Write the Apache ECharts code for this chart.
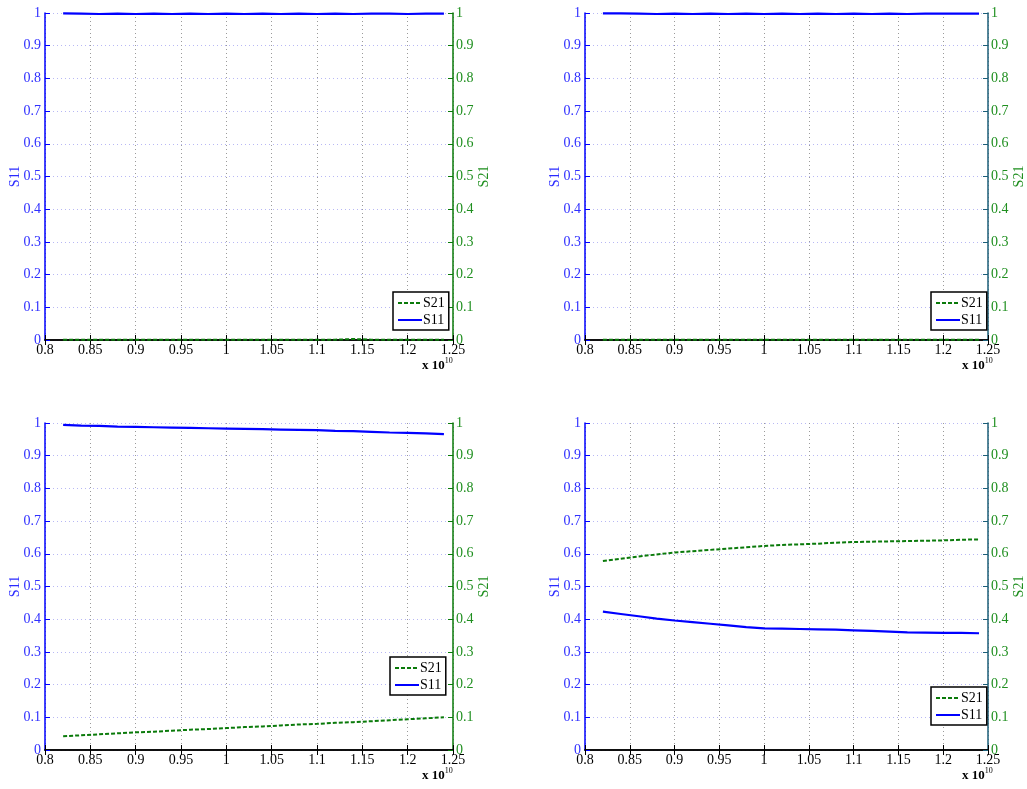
<!DOCTYPE html>
<html><head><meta charset="utf-8">
<script src="https://cdn.jsdelivr.net/npm/echarts@6/dist/echarts.min.js"></script>
<style>html,body{margin:0;padding:0;background:#fff}#c{width:1027px;height:789px}</style>
</head><body><div id="c"></div>
<script>
const freq = [0.82,0.84,0.86,0.88,0.90,0.92,0.94,0.96,0.98,1.00,1.02,1.04,1.06,1.08,1.10,1.12,1.14,1.16,1.18,1.20,1.22,1.24];
const s11_a = [0.999,0.998,0.997,0.998,0.997,0.998,0.997,0.998,0.997,0.998,0.997,0.998,0.997,0.998,0.997,0.998,0.997,0.998,0.998,0.997,0.998,0.998];
const s21_a = [0.001,0.001,0.001,0.001,0.001,0.001,0.001,0.001,0.001,0.001,0.001,0.001,0.001,0.001,0.001,0.001,0.003,0.001,0.001,0.001,0.001,0.001];
const s11_b = [0.999,0.999,0.998,0.997,0.998,0.997,0.998,0.997,0.998,0.997,0.998,0.997,0.998,0.997,0.998,0.997,0.998,0.997,0.998,0.998,0.998,0.998];
const s21_b = [0.001,0.001,0.001,0.001,0.001,0.001,0.001,0.001,0.001,0.001,0.001,0.001,0.001,0.001,0.001,0.001,0.001,0.001,0.001,0.001,0.001,0.001];
const s11_c = [0.994,0.992,0.991,0.989,0.988,0.987,0.986,0.985,0.984,0.983,0.982,0.981,0.980,0.979,0.978,0.976,0.975,0.973,0.971,0.970,0.968,0.966];
const s21_c = [0.042,0.045,0.048,0.051,0.054,0.056,0.059,0.062,0.064,0.067,0.070,0.072,0.075,0.078,0.080,0.083,0.085,0.088,0.091,0.094,0.097,0.100];
const s11_d = [0.423,0.416,0.409,0.402,0.396,0.391,0.386,0.381,0.376,0.372,0.371,0.370,0.369,0.368,0.366,0.364,0.362,0.360,0.359,0.358,0.358,0.357];
const s21_d = [0.578,0.585,0.592,0.598,0.604,0.608,0.612,0.616,0.620,0.624,0.627,0.629,0.631,0.634,0.636,0.637,0.638,0.639,0.640,0.641,0.643,0.644];
const xTicks = [0.8,0.85,0.9,0.95,1,1.05,1.1,1.15,1.2,1.25];
const yTicks = [0,0.1,0.2,0.3,0.4,0.5,0.6,0.7,0.8,0.9,1];

const FONT = '"Liberation Serif", "DejaVu Serif", serif';
const panels = [
  {s11:s11_a, s21:s21_a, left:45, top:13, rightColor:'#0a7a0a', legend:{left:393, top:292}},
  {s11:s11_b, s21:s21_b, left:585, top:13, rightColor:'#1b5e78', legend:{left:931, top:292}},
  {s11:s11_c, s21:s21_c, left:45, top:423, rightColor:'#0a7a0a', legend:{left:390, top:657}},
  {s11:s11_d, s21:s21_d, left:585, top:423, rightColor:'#1b5e78', legend:{left:931, top:687}}
];
const W = 408, H = 327;
const grid=[], xAxis=[], yAxis=[], series=[], legend=[], graphic=[];
panels.forEach((p,i)=>{
  grid.push({left:p.left, top:p.top, width:W, height:H});
  xAxis.push({type:'value', gridIndex:i, min:0.8, max:1.25, interval:0.05, position:'bottom',
    axisLine:{lineStyle:{color:'#000', width:1.5}},
    axisTick:{inside:true, length:5, lineStyle:{color:'#000'}},
    axisLabel:{color:'#000', fontFamily:FONT, fontSize:14, margin:3, formatter:v=>String(+v.toFixed(2))},
    splitLine:{show:true, lineStyle:{color:'#9a9a9a', type:[1,3], width:1}}});
  xAxis.push({type:'value', gridIndex:i, min:0.8, max:1.25, interval:0.05, position:'top',
    axisLine:{lineStyle:{color:'#000', width:1.5}},
    axisTick:{inside:true, length:5, lineStyle:{color:'#000'}},
    axisLabel:{show:false}, splitLine:{show:false}});
  yAxis.push({type:'value', gridIndex:i, min:0, max:1, interval:0.1, position:'left',
    name:'S11', nameLocation:'middle', nameGap:23, nameRotate:90, nameMoveOverlap:false,
    nameTextStyle:{color:'#2a2aff', fontFamily:FONT, fontSize:14},
    axisLine:{lineStyle:{color:'#0000ff', width:1.5}},
    axisTick:{show:true, inside:true, length:5, lineStyle:{color:'#0000ff'}},
    axisLabel:{color:'#3030ff', fontFamily:FONT, fontSize:14, margin:4},
    splitLine:{show:true, lineStyle:{color:'#b8b8f4', type:[1,3], width:1}}});
  yAxis.push({type:'value', gridIndex:i, min:0, max:1, interval:0.1, position:'right',
    name:'S21', nameLocation:'middle', nameGap:24, nameRotate:90, nameMoveOverlap:false,
    nameTextStyle:{color:'#1f8f1f', fontFamily:FONT, fontSize:14},
    axisLine:{lineStyle:{color:p.rightColor, width:1.5}},
    axisTick:{show:true, inside:true, length:5, lineStyle:{color:p.rightColor}},
    axisLabel:{color:'#1f8f1f', fontFamily:FONT, fontSize:14, margin:3},
    splitLine:{show:false}});
  series.push({name:'S21', type:'line', xAxisIndex:2*i, yAxisIndex:2*i+1, symbol:'none',
    data:freq.map((f,k)=>[f,p.s21[k]]), color:'#0a7a0a',
    lineStyle:{color:'#0a7a0a', width:2, type:[4,2]}, z:3});
  series.push({name:'S11', type:'line', xAxisIndex:2*i, yAxisIndex:2*i, symbol:'none',
    data:freq.map((f,k)=>[f,p.s11[k]]), color:'#0000ff',
    lineStyle:{color:'#0000ff', width:2.2}, z:4});
  legend.push({left:p.legend.left, top:p.legend.top, orient:'vertical', data:['S21','S11'],
    backgroundColor:'#fff', borderColor:'#000', borderWidth:1.5, borderRadius:0,
    padding:[4,4,3,4], itemGap:3, itemWidth:24, itemHeight:14, selectedMode:false,
    itemStyle:{opacity:0},
    textStyle:{color:'#000', fontFamily:FONT, fontSize:14, padding:[0,0,0,-4]}});
  graphic.push({type:'text', left:p.left+W-31, top:p.top+H+17,
    style:{text:'{a|x 10}{b|10}', rich:{a:{fontFamily:FONT, fontSize:13, fontWeight:'bold', fill:'#000'},
      b:{fontFamily:FONT, fontSize:8, fill:'#000', verticalAlign:'top', padding:[0,0,10,0]}}}});
});
const chart = echarts.init(document.getElementById('c'));
chart.setOption({animation:false, backgroundColor:'#fff', grid, xAxis, yAxis, series, legend, graphic});
</script></body></html>
